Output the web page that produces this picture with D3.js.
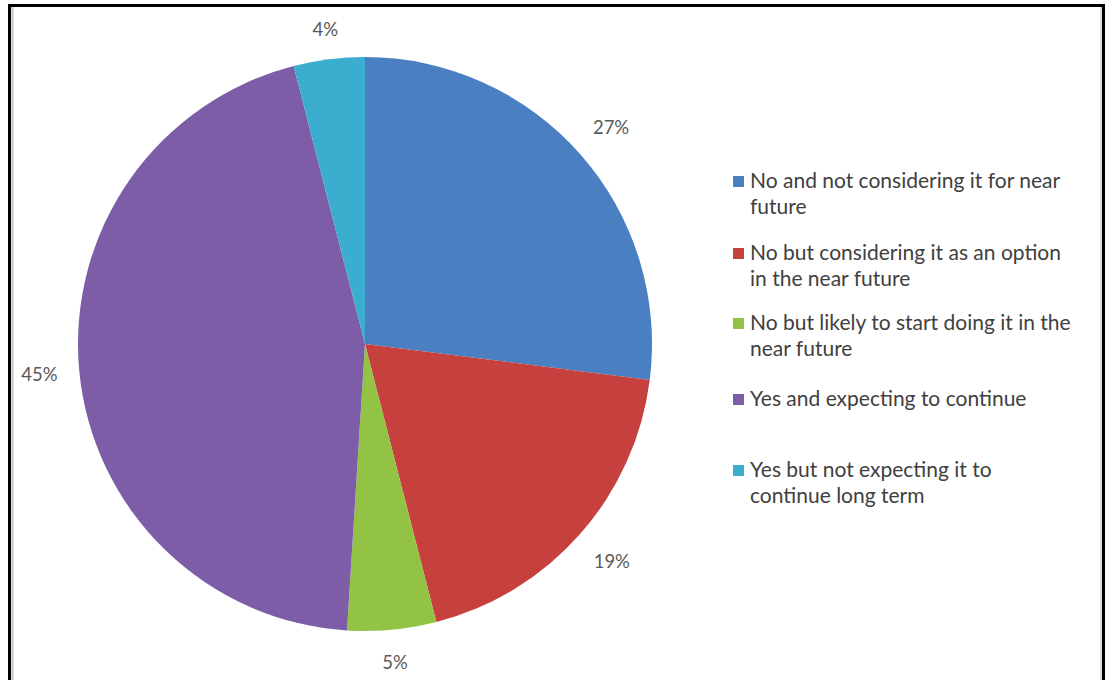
<!DOCTYPE html>
<html><head><meta charset="utf-8">
<script src="https://cdn.jsdelivr.net/npm/d3@7"></script>
<style>body{margin:0;background:#fff}svg{display:block}</style>
</head><body>
<script>
const categories = [
  "No and not considering it for near future",
  "No but considering it as an option in the near future",
  "No but likely to start doing it in the near future",
  "Yes and expecting to continue",
  "Yes but not expecting it to continue long term"
];
const legendLines = [
  ["No and not considering it for near", "future"],
  ["No but considering it as an option", "in the near future"],
  ["No but likely to start doing it in the", "near future"],
  ["Yes and expecting to continue"],
  ["Yes but not expecting it to", "continue long term"]
];
const values = [27, 19, 5, 45, 4];
const valueLabels = ["27%", "19%", "5%", "45%", "4%"];
const colors = ["#4a7fc1", "#c6413e", "#93c345", "#7d5ca8", "#3badce"];

const W = 1109, H = 680;
const svg = d3.select("body").append("svg").attr("width", W).attr("height", H);

// frame
svg.append("rect").attr("x", 9.5).attr("y", 5.5).attr("width", 1094).attr("height", 690)
  .attr("fill", "#fff").attr("stroke", "#000").attr("stroke-width", 3);
svg.append("line").attr("x1", 12.5).attr("x2", 12.5).attr("y1", 7).attr("y2", 680).attr("stroke", "#c8c8c8").attr("stroke-width", 2);
svg.append("line").attr("x1", 1101).attr("x2", 1101).attr("y1", 7).attr("y2", 680).attr("stroke", "#e0e0e0").attr("stroke-width", 2);

const cx = 365, cy = 344, r = 287;
const pie = d3.pie().sort(null).value(d => d)(values);
const arc = d3.arc().innerRadius(0).outerRadius(r);
const g = svg.append("g").attr("transform", `translate(${cx},${cy})`);
g.selectAll("path").data(pie).join("path")
  .attr("d", arc).attr("fill", (d, i) => colors[i]);

// labels
const labelR = [r + 41, r + 42, r + 33, r + 40, r + 30];
g.selectAll("text.lbl").data(pie).join("text")
  .attr("class", "lbl")
  .attr("transform", (d, i) => {
    const a = (d.startAngle + d.endAngle) / 2;
    const rr = labelR[i];
    return `translate(${Math.sin(a) * rr},${-Math.cos(a) * rr})`;
  })
  .attr("text-anchor", "middle").attr("dy", "0.35em")
  .attr("font-family", "Lato, 'Open Sans', sans-serif").attr("font-size", 18.5)
  .attr("fill", "#595959")
  .text((d, i) => valueLabels[i]);

// legend
const legY = [188, 260, 330, 406, 477];
const leg = svg.append("g");
categories.forEach((c, i) => {
  const gi = leg.append("g").attr("transform", `translate(733,${legY[i]})`);
  gi.append("rect").attr("x", 0).attr("y", -12).attr("width", 11).attr("height", 11).attr("fill", colors[i]);
  legendLines[i].forEach((t, j) => {
    gi.append("text").attr("x", 17).attr("y", j * 26)
      .attr("font-family", "Lato, 'Open Sans', sans-serif").attr("font-size", 21)
      .attr("fill", "#404040").text(t);
  });
});
</script>
</body></html>
